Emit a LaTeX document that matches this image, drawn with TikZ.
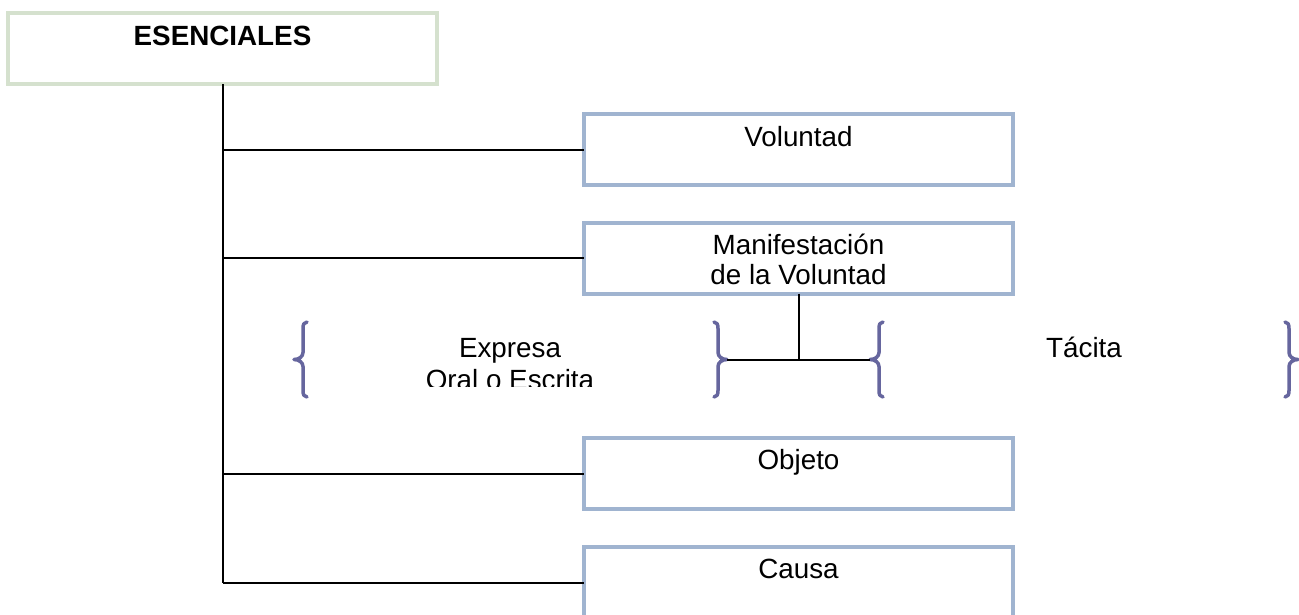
\documentclass[tikz,border=0pt]{standalone}
\usepackage{fontspec}
\setmainfont{Liberation Sans}
\usetikzlibrary{calc}
\definecolor{boxblue}{RGB}{160,180,208}
\definecolor{boxgreen}{RGB}{213,225,206}
\definecolor{bracecol}{RGB}{102,102,158}
\tikzset{
  bluebox/.style={draw=boxblue, line width=4pt, minimum width=429pt, minimum height=71pt, inner sep=0pt, outer sep=0pt},
  greenbox/.style={draw=boxgreen, line width=4pt, minimum width=429pt, minimum height=71pt, inner sep=0pt, outer sep=0pt},
  txt/.style={font=\fontsize{27.8pt}{30pt}\selectfont, inner sep=0pt, anchor=base},
  conn/.style={draw=black, line width=2pt},
  bracestyle/.style={draw=bracecol, line width=3.5pt, line cap=round, line join=round},
  lbrace/.pic={\draw[bracestyle] (13,-37.5) .. controls (10,-37.5) and (9,-35) .. (9,-31) -- (9,-7) .. controls (9,-3) and (5,0) .. (0,0) .. controls (5,0) and (9,3) .. (9,7) -- (9,31) .. controls (9,35) and (10,37.5) .. (13,37.5);},
  rbrace/.pic={\draw[bracestyle] (-13,-37.5) .. controls (-10,-37.5) and (-9,-35) .. (-9,-31) -- (-9,-7) .. controls (-9,-3) and (-5,0) .. (0,0) .. controls (-5,0) and (-9,3) .. (-9,7) -- (-9,31) .. controls (-9,35) and (-10,37.5) .. (-13,37.5);}
}
\begin{document}
\begin{tikzpicture}[x=1pt,y=-1pt]
\useasboundingbox[fill=white] (0,0) rectangle (1299,614);
% main box
\node[greenbox] (ese) at (222.5,48.5) {};
\node[txt, font=\fontsize{27.8pt}{30pt}\selectfont\bfseries] (eset) at (222.5,45) {ESENCIALES};
% right boxes
\node[bluebox] (vol) at (798.5,149.5) {};
\node[txt] (volt) at ($(vol.north)+(0,32)$) {Voluntad};
\node[bluebox] (man) at (798.5,258) {};
\node[txt, align=center] (mant) at ($(man.north)+(0,62)$) {Manifestación\\de la Voluntad};
\node[bluebox] (obj) at (798.5,473.5) {};
\node[txt] (objt) at ($(obj.north)+(0,31)$) {Objeto};
\node[bluebox] (cau) at (798.5,582.5) {};
\node[txt] (caut) at ($(cau.north)+(0,31)$) {Causa};
% trunk
\coordinate (trunktop) at (223,84);
\coordinate (trunkbot) at (223,582.5);
\draw[conn] (trunktop) -- (trunkbot);
\draw[conn] (trunktop |- vol.west) -- (vol.west);
\draw[conn] (trunktop |- man.west) -- (man.west);
\draw[conn] (trunktop |- obj.west) -- (obj.west);
\draw[conn] (trunkbot) -- (cau.west);
% braces
\pic at (294,359.5) {lbrace};
\pic at (727,359.5) {rbrace};
\coordinate (expR) at (727,359.5);
\pic at (870,359.5) {lbrace};
\coordinate (tacL) at (870,359.5);
\pic at (1298,359.5) {rbrace};
\draw[conn] (expR) -- (tacL);
\draw[conn] (man.south) -- (man.south |- expR);
% texts
\node[txt] (exp) at (510,357) {Expresa};
\begin{scope}
\clip (380,365) rectangle (650,386.5);
\node[txt] (ora) at (510,389) {Oral o Escrita};
\end{scope}
\node[txt] (tac) at (1084,357) {Tácita};
\end{tikzpicture}
\end{document}
